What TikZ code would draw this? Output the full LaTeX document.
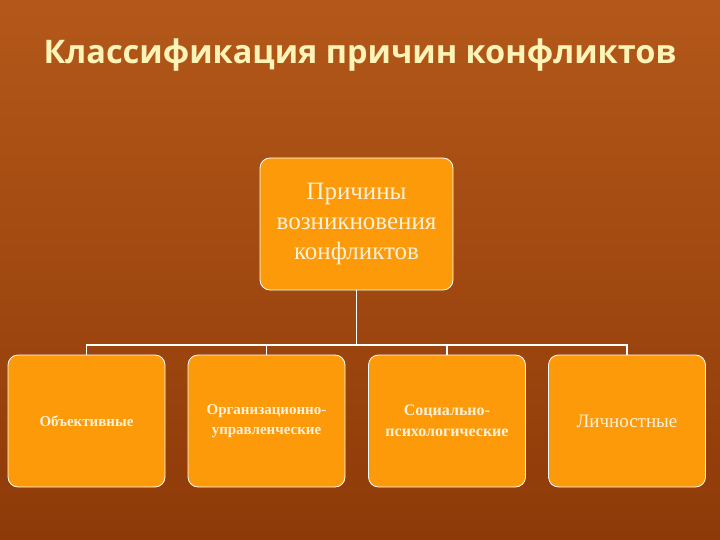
\documentclass[tikz,border=0pt]{standalone}
\usepackage{fontspec}
\setmainfont{Liberation Serif}
\newfontfamily\titlefont{Open Sans}
\definecolor{bgA}{HTML}{B4581A}
\definecolor{bgB}{HTML}{8E3A08}
\definecolor{boxfill}{HTML}{FC9A0A}
\definecolor{titlecol}{HTML}{FFF4B8}
\definecolor{txt}{HTML}{FFF2DA}
\begin{document}
\begin{tikzpicture}[x=1pt,y=-1pt,
  box/.style={draw=white,line width=0.8pt,fill=boxfill,rounded corners=10pt,align=center,text=txt,inner sep=2pt},
  link/.style={draw=white,line width=1.2pt}]
\useasboundingbox (0,0) rectangle (720,540);
\shade[top color=bgA,bottom color=bgB] (0,0) rectangle (720,540);
\node[font=\titlefont\bfseries\fontsize{32.5}{38}\selectfont,text=titlecol] (t) at (360,55) {Классификация причин конфликтов};
\node[box,minimum width=193pt,minimum height=132pt,font=\fontsize{25}{30}\selectfont] (top) at (356.5,224) {Причины\\возникновения\\конфликтов};
\node[box,minimum width=157pt,minimum height=132pt,font=\fontsize{15}{18}\selectfont\bfseries] (b1) at (86.5,421) {Объективные};
\node[box,minimum width=157pt,minimum height=132pt,font=\fontsize{15}{20}\selectfont\bfseries] (b2) at (266.5,421) {Организационно-\\управленческие};
\node[box,minimum width=157pt,minimum height=132pt,font=\fontsize{16}{21}\selectfont\bfseries] (b3) at (447,421) {Социально-\\психологические};
\node[box,minimum width=157pt,minimum height=132pt,font=\fontsize{19}{22}\selectfont] (b4) at (627,421) {Личностные};
\coordinate (j) at (356.5,345);
\draw[link] (top.south) -- (j);
\draw[link] (b1.north) -- (b1.north |- j) -- (b4.north |- j) -- (b4.north);
\draw[link] (b2.north) -- (b2.north |- j);
\draw[link] (b3.north) -- (b3.north |- j);
\end{tikzpicture}
\end{document}
